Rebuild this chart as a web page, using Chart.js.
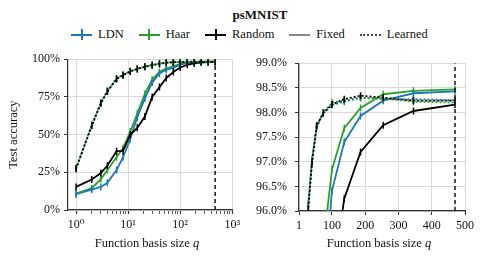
<!DOCTYPE html>
<html>
<head>
<meta charset="utf-8">
<script src="https://cdn.jsdelivr.net/npm/chart.js@4.4.1/dist/chart.umd.min.js"></script>
<style>
  body { margin: 0; width: 484px; height: 261px; background: #fff; position: relative; overflow: hidden;
         font-family: 'Liberation Serif', 'DejaVu Serif', serif; color: #111; }
  #title { position: absolute; top: 7px; left: 18px; width: 484px; text-align: center; font-weight: bold; font-size: 13px; }
  #legend { position: absolute; top: 27px; left: 71px; display: flex; align-items: center; font-size: 12.5px; }
  .item { display: flex; align-items: center; margin-right: 15px; }
  .handle { position: relative; width: 21px; height: 11px; margin-right: 6px; }
  .handle::before { content: ''; position: absolute; left: 0; right: 0; top: 4.5px; height: 2px; background: var(--c); }
  .handle.err::after { content: ''; position: absolute; left: 9.5px; top: 0; width: 2px; height: 11px; background: var(--c); }
  .handle.dot::before { background: none; border-top: 2px dotted var(--c); height: 0; }
  .xtitle { position: absolute; top: 236px; font-size: 12.5px; transform: translateX(-50%); white-space: nowrap; }
  canvas { position: absolute; }
</style>
</head>
<body>
<div id="title">psMNIST</div>
<div id="legend"></div>
<canvas id="left" width="244" height="200" style="left:0;top:48px"></canvas>
<canvas id="right" width="240" height="200" style="left:244px;top:48px"></canvas>
<div class="xtitle" style="left:147px">Function basis size <i>q</i></div>
<div class="xtitle" style="left:379px">Function basis size <i>q</i></div>
<script>
const colors = {
  ldn: '#1f77b4',
  haar: '#2ca02c',
  random: '#000000',
  grid: '#d9d9d9',
  spine: '#333333',
  text: '#111111',
};
const FONT = "'Liberation Serif', 'DejaVu Serif', serif";

// basis sizes q
const Q = [1, 2, 3, 4, 6, 8, 11, 15, 21, 29, 40, 54, 74, 100, 137, 186, 254, 345, 470];
const Q_MAX = 470;

// test accuracy (%) with fixed basis
const ldnFixed    = [10.5, 13.5, 15.3, 18.0, 26.5, 35.0, 47.0, 61.5, 74.0, 84.5, 90.5, 93.0, 94.3, 96.41, 97.40, 97.93, 98.24, 98.39, 98.43];
const haarFixed   = [10.8, 14.5, 20.5, 26.5, 35.0, 41.0, 52.0, 64.0, 77.0, 86.5, 91.5, 94.0, 95.3, 96.84, 97.68, 98.09, 98.37, 98.44, 98.47];
const randomFixed = [15.3, 20.2, 24.5, 29.5, 39.0, 39.2, 50.0, 54.5, 62.0, 75.0, 81.5, 87.5, 91.5, 94.5, 96.25, 97.20, 97.74, 98.03, 98.16];

// test accuracy (%) with learned basis
const ldnLearned    = [27.5, 56.0, 71.0, 78.8, 87.0, 89.5, 92.0, 93.5, 95.0, 96.10, 97.00, 97.70, 97.98, 98.15, 98.22, 98.30, 98.27, 98.27, 98.25];
const haarLearned   = [27.8, 56.3, 71.2, 79.0, 87.2, 89.6, 92.1, 93.6, 95.1, 96.15, 97.05, 97.72, 98.00, 98.20, 98.24, 98.30, 98.28, 98.22, 98.20];
const randomLearned = [27.3, 55.8, 70.8, 78.6, 86.9, 89.4, 91.9, 93.5, 95.0, 96.05, 96.98, 97.73, 97.99, 98.16, 98.27, 98.34, 98.30, 98.24, 98.24];

// axis ticks
const LEFT_X_MAJOR = [1, 10, 100, 1000];
const LEFT_X_LABELS = ['10⁰', '10¹', '10²', '10³'];
const RIGHT_X_TICKS = [1, 100, 200, 300, 400, 500];
const LEFT_Y_TICKS = [0, 25, 50, 75, 100];
const RIGHT_Y_TICKS = [96.0, 96.5, 97.0, 97.5, 98.0, 98.5, 99.0];

const legendItems = [
  { label: 'LDN', color: colors.ldn, kind: 'err' },
  { label: 'Haar', color: colors.haar, kind: 'err' },
  { label: 'Random', color: colors.random, kind: 'err' },
  { label: 'Fixed', color: '#888888', kind: 'line' },
  { label: 'Learned', color: '#444444', kind: 'dot' },
];

function buildLegend() {
  const el = document.getElementById('legend');
  legendItems.forEach(it => {
    const item = document.createElement('div');
    item.className = 'item';
    const h = document.createElement('span');
    h.className = 'handle ' + it.kind;
    h.style.setProperty('--c', it.color);
    const t = document.createElement('span');
    t.textContent = it.label;
    item.appendChild(h);
    item.appendChild(t);
    el.appendChild(item);
  });
}

function series(values, color, learned, order, dashOffset) {
  return {
    data: Q.map((q, i) => ({ x: q, y: values[i] })),
    borderColor: color,
    backgroundColor: color,
    borderWidth: 1.8,
    borderDash: learned ? [2, 2] : [],
    borderDashOffset: dashOffset || 0,
    pointStyle: 'line',
    rotation: 90,
    pointRadius: 3.5,
    pointBorderWidth: 1.5,
    pointBorderColor: color,
    order: order,
  };
}

function allSeries(yMin, yMax) {
  return [
    series(randomLearned, colors.random, true, 1, 0),
    series(haarLearned, colors.haar, true, 2, 2),
    series(ldnLearned, colors.ldn, true, 3, 1),
    series(randomFixed, colors.random, false, 4),
    series(ldnFixed, colors.ldn, false, 5),
    series(haarFixed, colors.haar, false, 6),
    {
      data: [{ x: Q_MAX, y: yMin }, { x: Q_MAX, y: yMax }],
      borderColor: '#222',
      borderWidth: 1.6,
      borderDash: [4, 3],
      pointRadius: 0,
      order: 0,
    },
  ];
}

const tickFont = { family: FONT, size: 12 };

function yScale(min, max, ticks, fmt, pad, width, title) {
  return {
    type: 'linear',
    min: min, max: max,
    afterBuildTicks: s => { s.ticks = ticks.map(v => ({ value: v })); },
    afterFit: s => { s.width = width; },
    ticks: { font: tickFont, color: colors.text, padding: pad, callback: fmt },
    grid: { color: colors.grid, lineWidth: 1, tickColor: colors.spine, tickLength: 4 },
    border: { display: true, color: colors.spine, width: 1.2 },
    title: title ? { display: true, text: title, font: { family: FONT, size: 12.5 }, color: colors.text, padding: { top: 6, bottom: 0 } } : { display: false },
  };
}

function baseOptions(xScale, yS, padRight) {
  return {
    responsive: false,
    animation: false,
    devicePixelRatio: 1,
    layout: { padding: { top: 11, right: padRight, left: 0, bottom: 0 } },
    plugins: { legend: { display: false }, tooltip: { enabled: false } },
    scales: { x: xScale, y: yS },
  };
}

function createLeft() {
  const minor = [];
  LEFT_X_MAJOR.forEach(m => { for (let k = 1; k <= 9; k++) if (m * k <= 1000) minor.push(m * k); });
  const isMajor = v => LEFT_X_MAJOR.includes(v);
  const xScale = {
    type: 'logarithmic',
    min: 0.7, max: 1000,
    afterBuildTicks: s => { s.ticks = minor.map(v => ({ value: v })); },
    afterFit: s => { s.height = 38; },
    ticks: {
      font: tickFont, color: colors.text, padding: 4, autoSkip: false, maxRotation: 0,
      callback: v => isMajor(v) ? LEFT_X_LABELS[LEFT_X_MAJOR.indexOf(v)] : '',
    },
    grid: {
      color: c => (c.tick && isMajor(c.tick.value)) ? colors.grid : 'rgba(0,0,0,0)',
      tickColor: colors.spine,
      tickWidth: c => (c.tick && isMajor(c.tick.value)) ? 1.2 : 0.8,
      tickLength: 4,
    },
    border: { display: true, color: colors.spine, width: 1.2 },
  };
  const yS = yScale(0, 100, LEFT_Y_TICKS, v => v + '%', 4, 68, 'Test accuracy');
  new Chart(document.getElementById('left'), {
    type: 'line',
    data: { datasets: allSeries(0, 100) },
    options: baseOptions(xScale, yS, 11),
  });
}

function createRight() {
  const xScale = {
    type: 'linear',
    min: 1, max: 500,
    afterBuildTicks: s => { s.ticks = RIGHT_X_TICKS.map(v => ({ value: v })); },
    afterFit: s => { s.height = 37; },
    ticks: { font: tickFont, color: colors.text, padding: 4, autoSkip: false, maxRotation: 0, callback: v => String(v) },
    grid: { color: colors.grid, lineWidth: 1, tickColor: colors.spine, tickLength: 4 },
    border: { display: true, color: colors.spine, width: 1.2 },
  };
  const yS = yScale(96, 99, RIGHT_Y_TICKS, v => v.toFixed(1) + '%', 8, 55, null);
  new Chart(document.getElementById('right'), {
    type: 'line',
    data: { datasets: allSeries(96, 99) },
    options: baseOptions(xScale, yS, 19),
  });
}

buildLegend();
createLeft();
createRight();
</script>
</body>
</html>
